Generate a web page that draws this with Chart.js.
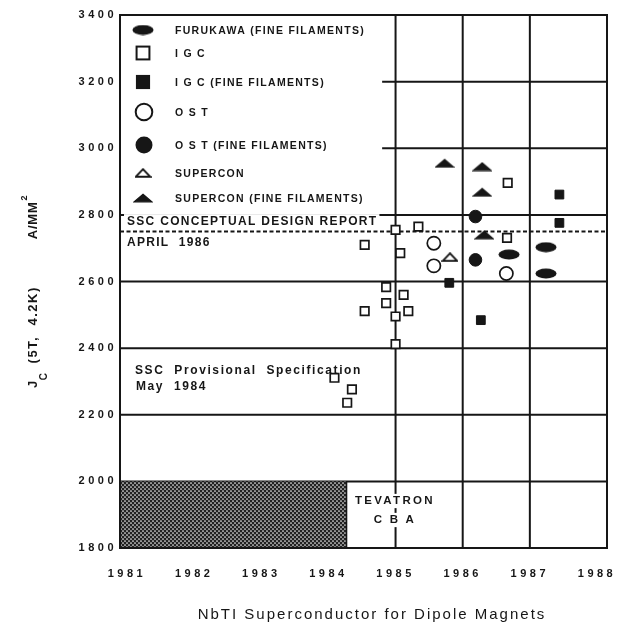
<!DOCTYPE html>
<html><head><meta charset="utf-8">
<style>html,body{margin:0;padding:0;background:#fff;}#wrap{width:618px;height:631px;position:relative;}</style>
<script src="https://cdn.jsdelivr.net/npm/chart.js@4/dist/chart.umd.min.js"></script>
</head><body><div id="wrap"><canvas id="c"></canvas></div>
<script>
// ---------- data ----------
const xTickYears = [1981, 1982, 1983, 1984, 1985, 1986, 1987, 1988];
const yTickValues = [1800, 2000, 2200, 2400, 2600, 2800, 3000, 3200, 3400];
const seriesLabels = ['FURUKAWA (FINE FILAMENTS)', 'I G C', 'I G C (FINE FILAMENTS)', 'O S T', 'O S T (FINE FILAMENTS)', 'SUPERCON', 'SUPERCON (FINE FILAMENTS)'];

const furukawaFineYear = [1986.69, 1987.24, 1987.24];
const furukawaFineJc   = [2681, 2703, 2624];

const igcYear = [1984.09, 1984.35, 1984.28, 1984.54, 1984.54, 1984.86, 1984.86, 1985.0, 1985.0, 1985.0, 1985.07, 1985.12, 1985.19, 1985.34, 1986.67, 1986.66];
const igcJc   = [2311, 2276, 2236, 2710, 2511, 2583, 2535, 2495, 2412, 2755, 2685, 2560, 2511, 2765, 2896, 2731];

const igcFineYear = [1985.80, 1986.27, 1987.44, 1987.44];
const igcFineJc   = [2596, 2484, 2861, 2776];

const ostYear = [1985.57, 1985.57, 1986.65];
const ostJc   = [2715, 2647, 2624];

const ostFineYear = [1986.19, 1986.19];
const ostFineJc   = [2795, 2665];

const superconYear = [1985.81];
const superconJc   = [2673];

const superconFineYear = [1985.73, 1986.29, 1986.29, 1986.32];
const superconFineJc   = [2955, 2945, 2868, 2740];

const conceptualDesignJc = 2750;          // dashed line (SSC CDR, April 1986)
const fullGridJc = [2000, 2200, 2400, 2600, 2800];
const partialGridJc = [3000, 3200];
const partialGridStartYear = 1984.8;
const gridYears = [1985, 1986, 1987];
const tevatronEndYear = 1984.27;          // hatched Tevatron / CBA block
const tevatronTopJc = 2000;

// ---------- axis range ----------
const X_MIN = 1980.896, X_MAX = 1988.149, Y_MIN = 1800, Y_MAX = 3400;
const INK = '#161616';
const FONT = '"Liberation Sans", Arial, sans-serif';

function pts(xs, ys) { return xs.map((x, i) => ({ x: x, y: ys[i] })); }

function makeEllipse(w, h) {
  const c = document.createElement('canvas'); c.width = w; c.height = h;
  const g = c.getContext('2d'); g.fillStyle = INK;
  g.beginPath(); g.ellipse(w / 2, h / 2, w / 2 - 0.5, h / 2 - 0.5, 0, 0, Math.PI * 2); g.fill();
  return c;
}
function makeTri(w, h, filled) {
  const c = document.createElement('canvas'); c.width = w; c.height = h;
  const g = c.getContext('2d');
  g.beginPath(); g.moveTo(w / 2, 1.2); g.lineTo(w - 1.2, h - 1.2); g.lineTo(1.2, h - 1.2); g.closePath();
  if (filled) { g.fillStyle = INK; g.fill(); g.lineWidth = 1.2; g.strokeStyle = INK; g.stroke(); }
  else { g.fillStyle = '#fff'; g.fill(); g.lineWidth = 1.9; g.strokeStyle = INK; g.stroke(); }
  return c;
}
function makeHatch() {
  const t = document.createElement('canvas'); t.width = 4; t.height = 4;
  const g = t.getContext('2d');
  g.fillStyle = '#222'; g.fillRect(0, 0, 4, 4);
  g.fillStyle = '#f0f0f0';
  g.beginPath(); g.arc(1, 1, 0.85, 0, Math.PI * 2); g.fill();
  g.beginPath(); g.arc(3, 3, 0.85, 0, Math.PI * 2); g.fill();
  return t.getContext('2d').createPattern(t, 'repeat');
}

const ellipseImg = makeEllipse(22, 11);
const triOpenImg = makeTri(17, 10, false);
const triFilledImg = makeTri(20, 10, true);

const datasets = [
  { label: seriesLabels[0], data: pts(furukawaFineYear, furukawaFineJc), pointStyle: ellipseImg, legendKind: 'img' },
  { label: seriesLabels[1], data: pts(igcYear, igcJc), pointStyle: 'rect', pointRadius: 6, pointBorderWidth: 1.7, pointBackgroundColor: '#fff', pointBorderColor: INK, legendKind: 'rect', legendFill: false, legendR: 10.5 },
  { label: seriesLabels[2], data: pts(igcFineYear, igcFineJc), pointStyle: 'rect', pointRadius: 6.2, pointBorderWidth: 1, pointBackgroundColor: INK, pointBorderColor: INK, legendKind: 'rect', legendFill: true, legendR: 10 },
  { label: seriesLabels[3], data: pts(ostYear, ostJc), pointStyle: 'circle', pointRadius: 6.6, pointBorderWidth: 1.7, pointBackgroundColor: '#fff', pointBorderColor: INK, legendKind: 'circle', legendFill: false, legendR: 9.3 },
  { label: seriesLabels[4], data: pts(ostFineYear, ostFineJc), pointStyle: 'circle', pointRadius: 6.3, pointBorderWidth: 1, pointBackgroundColor: INK, pointBorderColor: INK, legendKind: 'circle', legendFill: true, legendR: 8.5 },
  { label: seriesLabels[5], data: pts(superconYear, superconJc), pointStyle: triOpenImg, legendKind: 'img' },
  { label: seriesLabels[6], data: pts(superconFineYear, superconFineJc), pointStyle: triFilledImg, legendKind: 'img' },
  { label: 'TEVATRON / CBA', type: 'line', data: [{ x: X_MIN, y: tevatronTopJc }, { x: tevatronEndYear, y: tevatronTopJc }],
    fill: 'start', backgroundColor: makeHatch(), borderWidth: 0, pointRadius: 0, order: 10, isBlock: true }
];

function txt(ctx, s, x, y, o) {
  o = o || {};
  const size = o.size || 11, weight = o.weight || 'bold', ls = o.ls == null ? 1 : o.ls, align = o.align || 'left';
  ctx.save();
  ctx.font = weight + ' ' + size + 'px ' + FONT;
  ctx.letterSpacing = ls + 'px';
  ctx.textAlign = align; ctx.textBaseline = 'middle';
  const w = ctx.measureText(s).width;
  if (o.bg) {
    const x0 = align === 'center' ? x - w / 2 : x;
    ctx.fillStyle = '#fff'; ctx.fillRect(x0 - 3, y - size * 0.62, w + 5, size * 1.24);
  }
  ctx.fillStyle = INK; ctx.fillText(s, x, y);
  ctx.restore();
  return w;
}

const gridPlugin = {
  id: 'paperGrid',
  beforeDraw(chart) { chart.ctx.letterSpacing = '3.5px'; },
  beforeDatasetsDraw(chart) {
    const { ctx, chartArea: a, scales: { x, y } } = chart;
    ctx.save();
    ctx.strokeStyle = INK; ctx.lineWidth = 2; ctx.lineCap = 'butt';
    fullGridJc.forEach(v => { const py = y.getPixelForValue(v); ctx.beginPath(); ctx.moveTo(a.left, py); ctx.lineTo(a.right, py); ctx.stroke(); });
    partialGridJc.forEach(v => { const py = y.getPixelForValue(v); ctx.beginPath(); ctx.moveTo(x.getPixelForValue(partialGridStartYear), py); ctx.lineTo(a.right, py); ctx.stroke(); });
    gridYears.forEach(v => { const px = x.getPixelForValue(v); ctx.beginPath(); ctx.moveTo(px, a.top); ctx.lineTo(px, a.bottom); ctx.stroke(); });
    ctx.setLineDash([4, 2.5]);
    const dy = y.getPixelForValue(conceptualDesignJc);
    ctx.beginPath(); ctx.moveTo(a.left, dy); ctx.lineTo(a.right, dy); ctx.stroke();
    ctx.restore();
  },
  afterDatasetsDraw(chart) {
    const { ctx, chartArea: a, scales: { x, y } } = chart;
    ctx.save(); ctx.strokeStyle = INK; ctx.lineWidth = 1.5;
    const bx = x.getPixelForValue(tevatronEndYear);
    ctx.beginPath(); ctx.moveTo(bx, y.getPixelForValue(tevatronTopJc)); ctx.lineTo(bx, a.bottom); ctx.stroke();
    ctx.restore();
    const d = y.getPixelForValue(conceptualDesignJc);
    txt(ctx, 'SSC CONCEPTUAL DESIGN REPORT', a.left + 7, d - 10, { size: 12, ls: 1.3, bg: true });
    txt(ctx, 'APRIL  1986', a.left + 7, d + 11, { size: 12, ls: 1.3, bg: true });
    txt(ctx, 'SSC  Provisional  Specification', a.left + 15, 371, { size: 12, ls: 1.6 });
    txt(ctx, 'May  1984', a.left + 16, 387, { size: 12, ls: 1.6 });
    const tx = x.getPixelForValue(1984.99);
    txt(ctx, 'TEVATRON', tx, 501, { size: 11.5, ls: 2.3, align: 'center', bg: true });
    txt(ctx, 'C B A', tx, 520, { size: 11.5, ls: 2.2, align: 'center', bg: true });
    ctx.save(); ctx.strokeStyle = INK; ctx.lineWidth = 2;
    ctx.strokeRect(a.left, a.top, a.right - a.left, a.bottom - a.top);
    ctx.restore();
  },
  afterDraw(chart) {
    const ctx = chart.ctx;
    const rowY = [30, 53, 82, 112, 145, 173, 198];
    const mx = 143, tx = 175;
    chart.data.datasets.filter(ds => !ds.isBlock).forEach((ds, i) => {
      const yy = rowY[i];
      ctx.save();
      ctx.strokeStyle = INK; ctx.fillStyle = INK;
      if (ds.legendKind === 'img') {
        const im = ds.pointStyle; ctx.drawImage(im, mx - im.width / 2, yy - im.height / 2);
      } else if (ds.legendKind === 'rect') {
        const s = ds.legendR * Math.SQRT1_2;
        if (ds.legendFill) { ctx.fillRect(mx - s, yy - s, 2 * s, 2 * s); }
        else { ctx.lineWidth = 2; ctx.strokeRect(mx - s + 1, yy - s + 1, 2 * s - 2, 2 * s - 2); }
      } else {
        ctx.beginPath(); ctx.arc(mx + 1, yy, ds.legendFill ? ds.legendR : ds.legendR - 1, 0, Math.PI * 2);
        if (ds.legendFill) ctx.fill(); else { ctx.lineWidth = 2; ctx.stroke(); }
      }
      ctx.restore();
      txt(ctx, ds.label, tx, yy + 1, { size: 10.5, ls: 1.3 });
    });
    // y-axis title
    ctx.save();
    ctx.translate(33, 388); ctx.rotate(-Math.PI / 2);
    ctx.fillStyle = INK; ctx.textBaseline = 'middle'; ctx.textAlign = 'left';
    ctx.letterSpacing = '1.5px';
    let p = 0;
    ctx.font = 'bold 13px ' + FONT; ctx.fillText('J', p, 0); p += ctx.measureText('J').width;
    ctx.font = 'bold 10px ' + FONT; ctx.fillText('C', p - 1, 11); p += ctx.measureText('C').width + 2;
    ctx.font = 'bold 13px ' + FONT; const main = ' (5T,  4.2K)'; ctx.fillText(main, p, 0); p += ctx.measureText(main).width;
    p += 47;
    ctx.letterSpacing = '0.8px';
    ctx.fillText('A/MM', p, 0); p += ctx.measureText('A/MM').width;
    ctx.font = 'bold 9px ' + FONT; ctx.fillText('2', p + 1, -8);
    ctx.restore();
    txt(ctx, 'NbTI Superconductor for Dipole Magnets', 372, 615, { size: 15, weight: 'normal', ls: 2, align: 'center' });
  }
};

new Chart(document.getElementById('c'), {
  type: 'scatter',
  data: { datasets: datasets },
  options: {
    responsive: true, maintainAspectRatio: false, animation: false,
    layout: { padding: { top: 15, right: 11, left: 0, bottom: 0 } },
    plugins: { legend: { display: false }, tooltip: { enabled: false } },
    scales: {
      x: {
        type: 'linear', min: X_MIN, max: X_MAX,
        grid: { display: false, drawTicks: false }, border: { display: false },
        afterBuildTicks: s => { s.ticks = xTickYears.map(v => ({ value: v })); },
        afterFit: s => { s.height = 83; s.paddingLeft = 0; s.paddingRight = 0; },
        ticks: { callback: v => String(v), autoSkip: false, maxRotation: 0, padding: 19, color: INK, font: { family: FONT, weight: 'bold', size: 11 } }
      },
      y: {
        type: 'linear', min: Y_MIN, max: Y_MAX,
        grid: { display: false, drawTicks: false }, border: { display: false },
        afterBuildTicks: s => { s.ticks = yTickValues.map(v => ({ value: v })); },
        afterFit: s => { s.width = 120; },
        ticks: { callback: v => String(v), autoSkip: false, padding: 3, color: INK, font: { family: FONT, weight: 'bold', size: 11 } }
      }
    }
  },
  plugins: [gridPlugin]
});
</script></body></html>
